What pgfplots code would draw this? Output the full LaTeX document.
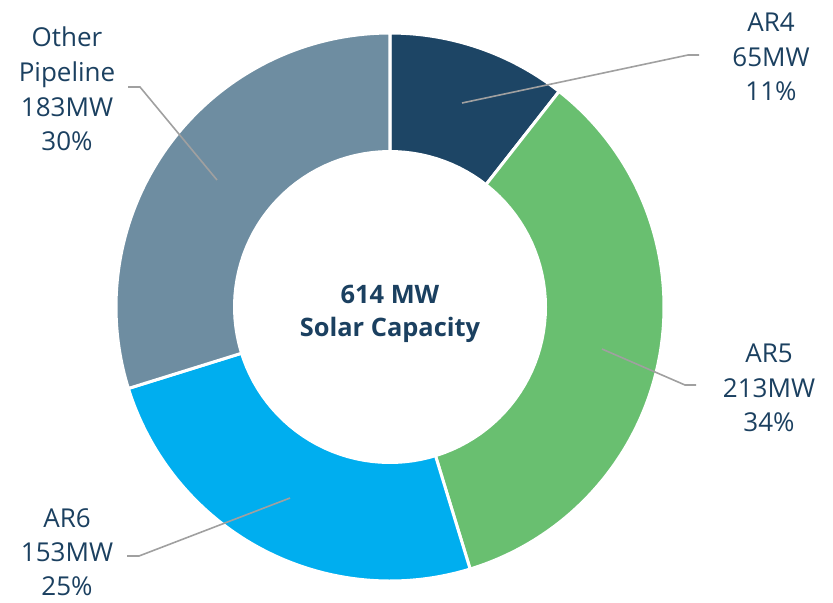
\documentclass[border=0pt]{standalone}
\usepackage{pgfplots}
\pgfplotsset{compat=1.18}
\usepackage{fontspec}
\setmainfont{Open Sans}
\definecolor{cAR4}{HTML}{1D4565}
\definecolor{cAR5}{HTML}{69BF70}
\definecolor{cAR6}{HTML}{00AEEF}
\definecolor{cOth}{HTML}{6E8DA1}
\definecolor{txt}{HTML}{1B4060}
\definecolor{lead}{HTML}{A0A0A0}
% values (MW): AR4 65, AR5 213, AR6 153, Other Pipeline 183; total 614
\pgfmathsetmacro\aA{90}
\pgfmathsetmacro\aB{90-65*(360/614)}
\pgfmathsetmacro\aC{\aB-213*(360/614)}
\pgfmathsetmacro\aD{\aC-153*(360/614)}
\pgfmathsetmacro\aE{\aD-183*(360/614)}
\begin{document}
\begin{tikzpicture}
\begin{axis}[
  x=0.5pt, y=0.5pt,
  xmin=0, xmax=833, ymin=0, ymax=602,
  hide axis, clip=false, scale only axis,
]
% wedges
\addplot[fill=cAR4, draw=white, line width=1.5pt, domain=\aA:\aB, samples=60, variable=\t]
  ({390+274*cos(t)},{295+274*sin(t)}) -- (axis cs:390,295) -- cycle;
\addplot[fill=cAR5, draw=white, line width=1.5pt, domain=\aB:\aC, samples=120, variable=\t]
  ({390+274*cos(t)},{295+274*sin(t)}) -- (axis cs:390,295) -- cycle;
\addplot[fill=cAR6, draw=white, line width=1.5pt, domain=\aC:\aD, samples=100, variable=\t]
  ({390+274*cos(t)},{295+274*sin(t)}) -- (axis cs:390,295) -- cycle;
\addplot[fill=cOth, draw=white, line width=1.5pt, domain=\aD:\aE, samples=100, variable=\t]
  ({390+274*cos(t)},{295+274*sin(t)}) -- (axis cs:390,295) -- cycle;
% hole
\addplot[fill=white, draw=none, domain=0:360, samples=120, variable=\t]
  ({390+157*cos(t)},{295+157*sin(t)}) -- cycle;
% leader lines
\addplot[lead, line width=0.8pt] coordinates {(462,499) (688,547) (699,547)};
\addplot[lead, line width=0.8pt] coordinates {(217,422) (140,515) (128,515)};
\addplot[lead, line width=0.8pt] coordinates {(602,253) (685,217) (696,217)};
\addplot[lead, line width=0.8pt] coordinates {(290,104) (139,46) (127,46)};
% labels
\node[txt, align=center, font=\fontsize{13}{17.3}\selectfont] at (axis cs:771,545) {AR4\\65MW\\11\%};
\node[txt, align=center, font=\fontsize{13}{17.3}\selectfont] at (axis cs:67,513) {Other\\Pipeline\\183MW\\30\%};
\node[txt, align=center, font=\fontsize{13}{17.3}\selectfont] at (axis cs:769,214) {AR5\\213MW\\34\%};
\node[txt, align=center, font=\fontsize{13}{17}\selectfont] at (axis cs:67,50) {AR6\\153MW\\25\%};
\node[txt, align=center, font=\bfseries\fontsize{12.7}{16.5}\selectfont] at (axis cs:390,288) {614 MW\\Solar Capacity};
\end{axis}
\pgfresetboundingbox
\useasboundingbox (current axis.south west) rectangle (current axis.north east);
\end{tikzpicture}
\end{document}
